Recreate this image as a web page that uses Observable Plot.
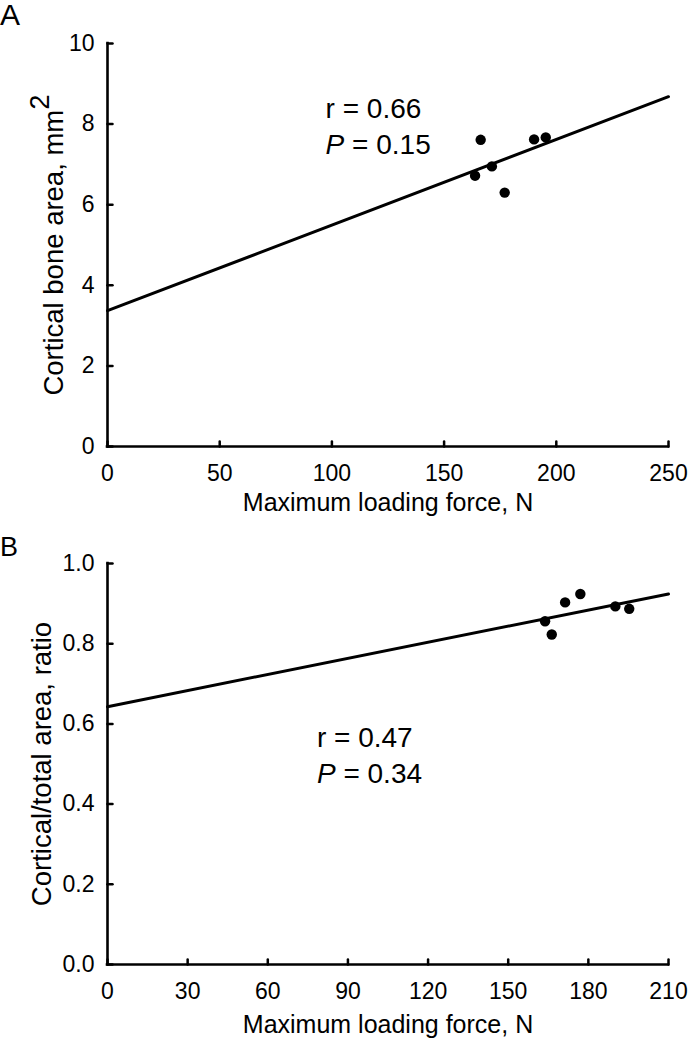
<!DOCTYPE html>
<html><head><meta charset="utf-8">
<script src="https://cdn.jsdelivr.net/npm/d3@7"></script>
<script src="https://cdn.jsdelivr.net/npm/@observablehq/plot@0.6"></script>
<style>
body{margin:0;background:#fff;font-family:"Liberation Sans",Arial,sans-serif;}
.panel{position:relative;width:689px;}
.plabel{position:absolute;left:0;line-height:1;color:#000;font-family:"Liberation Sans",Arial,sans-serif;}
svg{display:block;}
</style></head><body>
<div id="fig"></div>
<script>
// Data
const force = [163.8, 166.3, 171.3, 177.0, 190.1, 195.3];          // Maximum loading force, N
const corticalArea = [6.72, 7.61, 6.95, 6.30, 7.62, 7.67];       // mm^2
const corticalRatio = [0.856, 0.823, 0.903, 0.924, 0.893, 0.887]; // ratio

const fitAX = [0, 250], fitAY = [3.37, 8.68];
const fitBX = [0, 210], fitBY = [0.643, 0.924];

const xTicksA = [0, 50, 100, 150, 200, 250];
const yTicksA = [0, 2, 4, 6, 8, 10];
const xTicksB = [0, 30, 60, 90, 120, 150, 180, 210];
const yTicksB = [0, 0.2, 0.4, 0.6, 0.8, 1.0];

const annoAText = ["r = 0.66", "P = 0.15"], annoAX = [97.2, 97.2], annoAY = [8.37, 7.48];
const annoBText = ["r = 0.47", "P = 0.34"], annoBX = [78.4, 78.4], annoBY = [0.565, 0.475];

const FONT = '"Liberation Sans", Arial, sans-serif';
const XTITLE = "Maximum loading force, N";
const tickShape = {draw(ctx, l) { ctx.moveTo(0, 0); ctx.lineTo(0, -l); }};

function panel({xDomain, yDomain, xTicks, yTicks, yFormat, xs, ys, fitX, fitY, annoText, annoX, annoY,
                yLabel, yLabelOffset, xLabelOffset, height, marginTop, marginBottom}) {
  const pts = xs.map((x, i) => ({x, y: ys[i]}));
  const fit = fitX.map((x, i) => ({x, y: fitY[i]}));
  const anno = annoText.map((t, i) => ({t, x: annoX[i], y: annoY[i]}));
  const svg = Plot.plot({
    width: 689, height, marginLeft: 107, marginRight: 21, marginTop, marginBottom,
    style: {fontFamily: FONT, fontSize: "23px", color: "#000", background: "transparent"},
    x: {domain: xDomain}, y: {domain: yDomain},
    marks: [
      Plot.axisX(xTicks, {tickSize: 0, tickPadding: 18, fontSize: 23, label: XTITLE,
        labelAnchor: "center", labelOffset: xLabelOffset, labelArrow: "none"}),
      Plot.axisY(yTicks, {tickSize: 0, tickPadding: 13, fontSize: 23, tickFormat: yFormat, label: yLabel,
        labelAnchor: "center", labelOffset: yLabelOffset, labelArrow: "none"}),
      Plot.vector(xTicks, {x: d => d, y: () => yDomain[0], length: 5, rotate: 0, anchor: "start",
        shape: tickShape, stroke: "#000", strokeWidth: 2.5}),
      Plot.vector(yTicks, {x: () => xDomain[0], y: d => d, length: 5, rotate: 90, anchor: "start",
        shape: tickShape, stroke: "#000", strokeWidth: 2.5}),
      Plot.ruleY([yDomain[0]], {stroke: "#000", strokeWidth: 2.6, strokeLinecap: "square"}),
      Plot.ruleX([xDomain[0]], {stroke: "#000", strokeWidth: 2.6, strokeLinecap: "square"}),
      Plot.line(fit, {x: "x", y: "y", stroke: "#000", strokeWidth: 3}),
      Plot.dot(pts, {x: "x", y: "y", r: 5.2, fill: "#000", stroke: "none"}),
      Plot.text(anno, {x: "x", y: "y", text: "t", textAnchor: "start", lineAnchor: "middle",
        fontSize: 28, fill: "#000"})
    ]
  });
  svg.querySelectorAll('g[aria-label="x-axis tick label"], g[aria-label="y-axis tick label"]')
    .forEach(g => g.setAttribute("font-size", 23));
  svg.querySelectorAll("text").forEach(t => {
    const s = t.textContent;
    if (/^P = /.test(s)) {
      t.textContent = "";
      const it = document.createElementNS("http://www.w3.org/2000/svg", "tspan");
      it.setAttribute("font-style", "italic");
      it.textContent = "P";
      t.appendChild(it);
      t.appendChild(document.createTextNode(s.slice(1)));
    }
    if (s === XTITLE) t.setAttribute("font-size", 25);
    if (s === yLabel) t.setAttribute("font-size", 27.5);
    if (s === "Cortical bone area, mm2") {
      t.textContent = "Cortical bone area, mm";
      const sup = document.createElementNS("http://www.w3.org/2000/svg", "tspan");
      sup.setAttribute("dy", "-0.5em");
      sup.textContent = "2";
      t.appendChild(sup);
    }
  });
  return svg;
}

const fig = document.getElementById("fig");

const pA = document.createElement("div"); pA.className = "panel";
pA.appendChild(panel({xDomain: [0, 250], yDomain: [0, 10], xTicks: xTicksA, yTicks: yTicksA, yFormat: d3.format("d"),
  xs: force, ys: corticalArea, fitX: fitAX, fitY: fitAY, annoText: annoAText, annoX: annoAX, annoY: annoAY,
  yLabel: "Cortical bone area, mm2", yLabelOffset: 64, xLabelOffset: 64,
  height: 518, marginTop: 43, marginBottom: 72}));
const la = document.createElement("div"); la.className = "plabel"; la.textContent = "A";
la.style.fontSize = "30px"; la.style.top = "0px"; pA.appendChild(la);
fig.appendChild(pA);

const pB = document.createElement("div"); pB.className = "panel";
pB.appendChild(panel({xDomain: [0, 210], yDomain: [0, 1], xTicks: xTicksB, yTicks: yTicksB, yFormat: d3.format(".1f"),
  xs: force, ys: corticalRatio, fitX: fitBX, fitY: fitBY, annoText: annoBText, annoX: annoBX, annoY: annoBY,
  yLabel: "Cortical/total area, ratio", yLabelOffset: 76, xLabelOffset: 68,
  height: 522, marginTop: 45, marginBottom: 76}));
const lb = document.createElement("div"); lb.className = "plabel"; lb.textContent = "B";
lb.style.fontSize = "27px"; lb.style.top = "16px"; pB.appendChild(lb);
fig.appendChild(pB);
</script>
</body></html>
